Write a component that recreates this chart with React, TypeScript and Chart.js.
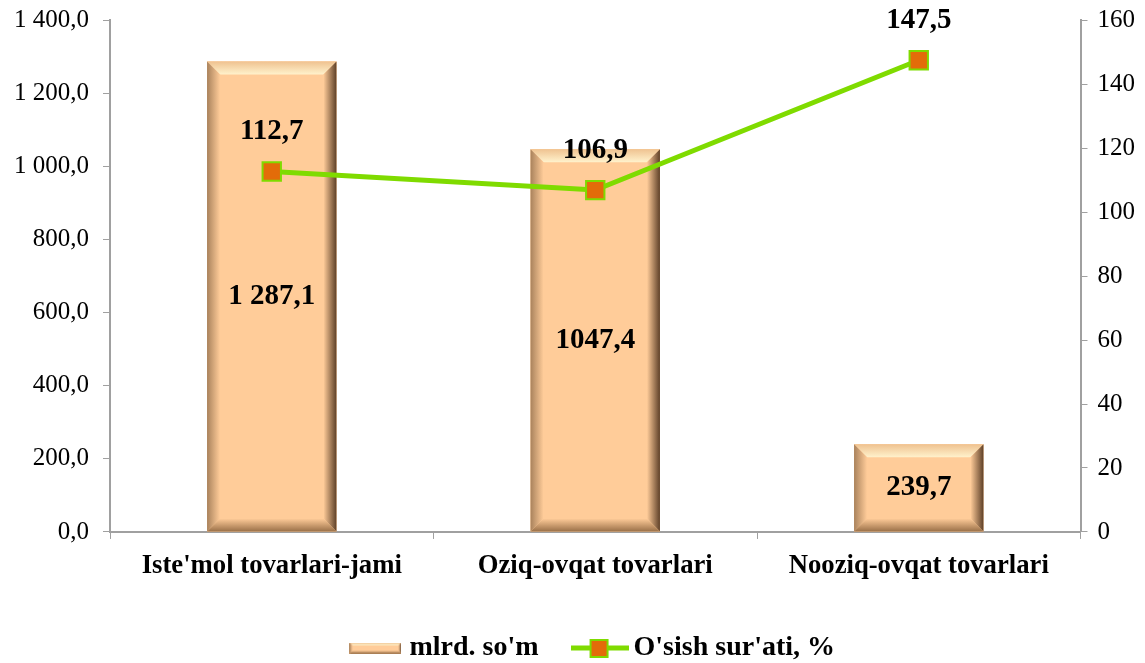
import React, { useEffect, useRef } from "react";
import { Chart, registerables } from "chart.js";

Chart.register(...registerables);

const categories = ["Iste'mol tovarlari-jami", "Oziq-ovqat tovarlari", "Nooziq-ovqat tovarlari"];
const volumeValues = [1287.1, 1047.4, 239.7];
const growthRates = [112.7, 106.9, 147.5];
const volumeLabels = ["1 287,1", "1047,4", "239,7"];
const growthLabels = ["112,7", "106,9", "147,5"];
const seriesNames = ["mlrd. so'm", "O'sish sur'ati, %"];

const FONT = "'Liberation Serif', 'Times New Roman', serif";
const PEACH = "#FFCC99";
const GREEN = "#7FDB00";
const ORANGE = "#E36C09";
const AXIS = "#A0A0A0";

function formatLeft(v: number): string {
  const s = v.toFixed(1).replace(".", ",");
  const [intPart, dec] = s.split(",");
  const withSpaces = intPart.replace(/\B(?=(\d{3})+(?!\d))/g, " ");
  return withSpaces + "," + dec;
}

function drawBevelRect(ctx: CanvasRenderingContext2D, x0: number, y0: number, x1: number, y1: number, b: number) {
  ctx.save();
  ctx.fillStyle = PEACH;
  ctx.fillRect(x0, y0, x1 - x0, y1 - y0);
  // top
  let g = ctx.createLinearGradient(0, y0, 0, y0 + b);
  g.addColorStop(0, "#EFC290");
  g.addColorStop(1, "#FFF2CC");
  ctx.fillStyle = g;
  ctx.beginPath();
  ctx.moveTo(x0, y0); ctx.lineTo(x1, y0); ctx.lineTo(x1 - b, y0 + b); ctx.lineTo(x0 + b, y0 + b); ctx.closePath();
  ctx.fill();
  // left
  g = ctx.createLinearGradient(x0, 0, x0 + b, 0);
  g.addColorStop(0, "#A9825C");
  g.addColorStop(1, PEACH);
  ctx.fillStyle = g;
  ctx.beginPath();
  ctx.moveTo(x0, y0); ctx.lineTo(x0 + b, y0 + b); ctx.lineTo(x0 + b, y1 - b); ctx.lineTo(x0, y1); ctx.closePath();
  ctx.fill();
  // right
  g = ctx.createLinearGradient(x1 - b, 0, x1, 0);
  g.addColorStop(0, PEACH);
  g.addColorStop(1, "#5E4028");
  ctx.fillStyle = g;
  ctx.beginPath();
  ctx.moveTo(x1, y0); ctx.lineTo(x1, y1); ctx.lineTo(x1 - b, y1 - b); ctx.lineTo(x1 - b, y0 + b); ctx.closePath();
  ctx.fill();
  // bottom
  g = ctx.createLinearGradient(0, y1 - b, 0, y1);
  g.addColorStop(0, PEACH);
  g.addColorStop(1, "#9A7048");
  ctx.fillStyle = g;
  ctx.beginPath();
  ctx.moveTo(x0, y1); ctx.lineTo(x1, y1); ctx.lineTo(x1 - b, y1 - b); ctx.lineTo(x0 + b, y1 - b); ctx.closePath();
  ctx.fill();
  ctx.restore();
}

function makeBarLegendIcon(): HTMLCanvasElement {
  const c = document.createElement("canvas");
  c.width = 52; c.height = 11;
  const ctx = c.getContext("2d")!;
  drawBevelRect(ctx, 0, 0, 52, 11, 3);
  return c;
}

function makeLineLegendIcon(): HTMLCanvasElement {
  const c = document.createElement("canvas");
  c.width = 58; c.height = 20;
  const ctx = c.getContext("2d")!;
  ctx.strokeStyle = GREEN;
  ctx.lineWidth = 5;
  ctx.beginPath();
  ctx.moveTo(0, 10); ctx.lineTo(58, 10);
  ctx.stroke();
  ctx.fillStyle = ORANGE;
  ctx.fillRect(20, 2, 17, 17);
  ctx.strokeStyle = GREEN;
  ctx.lineWidth = 2;
  ctx.strokeRect(20, 2, 17, 17);
  return c;
}

const bevelPlugin = {
  id: "bevelBars",
  afterDatasetDraw(chart: any, args: any) {
    if (args.index !== 0) return;
    const ctx = chart.ctx as CanvasRenderingContext2D;
    const meta = chart.getDatasetMeta(0);
    meta.data.forEach((el: any) => {
      const x0 = el.x - el.width / 2;
      const x1 = el.x + el.width / 2;
      drawBevelRect(ctx, x0, el.y, x1, el.base, 13);
    });
  },
};

const labelPlugin = {
  id: "valueLabels",
  afterDatasetsDraw(chart: any) {
    const ctx = chart.ctx as CanvasRenderingContext2D;
    ctx.save();
    ctx.font = `bold 29px ${FONT}`;
    ctx.fillStyle = "#000";
    ctx.textAlign = "center";
    ctx.textBaseline = "middle";
    const barMeta = chart.getDatasetMeta(0);
    barMeta.data.forEach((el: any, i: number) => {
      const cy = (el.y + el.base) / 2;
      ctx.fillText(volumeLabels[i], el.x, cy);
    });
    const lineMeta = chart.getDatasetMeta(1);
    lineMeta.data.forEach((el: any, i: number) => {
      ctx.fillText(growthLabels[i], el.x, el.y - 40);
    });
    ctx.restore();
  },
};

export default function App() {
  const ref = useRef<HTMLCanvasElement | null>(null);

  useEffect(() => {
    document.body.style.margin = "0";
    const barIcon = makeBarLegendIcon();
    const lineIcon = makeLineLegendIcon();
    const chart = new Chart(ref.current!, {
      type: "bar",
      data: {
        labels: categories,
        datasets: [
          {
            type: "bar",
            label: seriesNames[0],
            data: volumeValues,
            backgroundColor: PEACH,
            barPercentage: 0.4,
            categoryPercentage: 1,
            yAxisID: "y",
            order: 2,
          },
          {
            type: "line",
            label: seriesNames[1],
            data: growthRates,
            borderColor: GREEN,
            borderWidth: 5,
            pointStyle: "rect",
            pointRadius: 13,
            pointBackgroundColor: ORANGE,
            pointBorderColor: GREEN,
            pointBorderWidth: 2,
            yAxisID: "y1",
            order: 1,
          } as any,
        ],
      },
      options: {
        animation: false,
        responsive: true,
        maintainAspectRatio: false,
        layout: { padding: { top: 0, left: 0, right: 0, bottom: -9 } },
        plugins: {
          tooltip: { enabled: false },
          legend: {
            position: "bottom",
            fullSize: false,
            labels: {
              usePointStyle: true,
              pointStyleWidth: 40,
              boxHeight: 10,
              padding: 41,
              color: "#000",
              font: { family: FONT, size: 28, weight: "bold", lineHeight: 0.5 },
              generateLabels: () => [
                { text: seriesNames[0], pointStyle: barIcon, datasetIndex: 0, fillStyle: PEACH, strokeStyle: PEACH, lineWidth: 0, hidden: false, fontColor: "#000" } as any,
                { text: seriesNames[1], pointStyle: lineIcon, datasetIndex: 1, fillStyle: ORANGE, strokeStyle: GREEN, lineWidth: 0, hidden: false, fontColor: "#000" } as any,
              ],
            },
          },
        },
        scales: {
          x: {
            offset: true,
            grid: { display: true, drawOnChartArea: false, offset: true, color: AXIS, tickLength: 7 },
            border: { color: AXIS, width: 2 },
            ticks: { color: "#000", font: { family: FONT, size: 26.7, weight: "bold" }, padding: 11 },
          },
          y: {
            position: "left",
            min: 0,
            max: 1400,
            grid: { display: true, drawOnChartArea: false, color: AXIS, tickLength: 7 },
            border: { color: AXIS, width: 2 },
            ticks: { stepSize: 200, color: "#000", font: { family: FONT, size: 25, lineHeight: 0.5 }, padding: 14, callback: (v: any) => formatLeft(Number(v)) },
          },
          y1: {
            position: "right",
            min: 0,
            max: 160,
            grid: { display: true, drawOnChartArea: false, color: AXIS, tickLength: 7 },
            border: { color: AXIS, width: 2 },
            ticks: { stepSize: 20, color: "#000", font: { family: FONT, size: 25, lineHeight: 0.5 }, padding: 10 },
          },
        },
      },
      plugins: [bevelPlugin, labelPlugin],
    });
    return () => chart.destroy();
  }, []);

  return (
    <div style={{ width: 1145, height: 663, position: "relative" }}>
      <canvas ref={ref} />
    </div>
  );
}
